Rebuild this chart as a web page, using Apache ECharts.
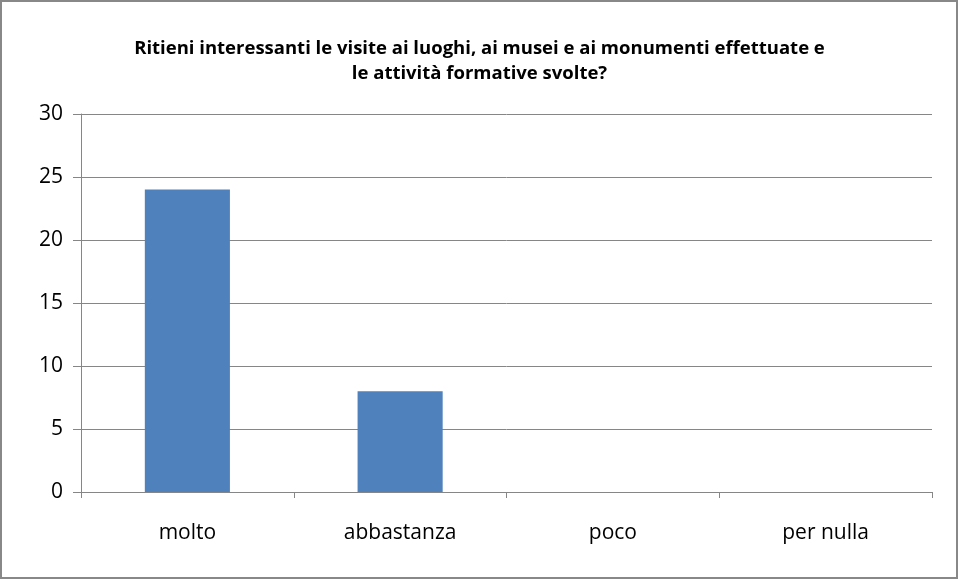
<!DOCTYPE html>
<html>
<head>
<meta charset="utf-8">
<script src="https://cdn.jsdelivr.net/npm/echarts@6/dist/echarts.min.js"></script>
<style>
  html, body { margin: 0; padding: 0; background: #fff; }
  #chart { width: 959px; height: 580px; }
</style>
</head>
<body>
<div id="chart"></div>
<script>
  // dati del grafico
  const titleText = 'Ritieni interessanti le visite ai luoghi, ai musei e ai monumenti effettuate e\nle attività formative svolte?';
  const categories = ['molto', 'abbastanza', 'poco', 'per nulla'];
  const values = [24, 8, 0, 0];

  const chart = echarts.init(document.getElementById('chart'));

  const gray = '#868686';

  const option = {
    backgroundColor: '#fff',
    animation: false,
    title: {
      text: titleText,
      left: 'center',
      top: 31,
      textStyle: {
        fontFamily: 'Open Sans',
        fontWeight: 'bold',
        fontSize: 18.5,
        lineHeight: 25,
        color: '#000'
      }
    },
    graphic: [{
      type: 'rect',
      shape: { x: 1, y: 1, width: 956, height: 577 },
      style: { fill: 'none', stroke: '#888', lineWidth: 2 },
      silent: true
    }],
    grid: {
      left: 81,
      right: 27,
      top: 114,
      bottom: 88
    },
    xAxis: {
      type: 'category',
      data: categories,
      axisLine: { lineStyle: { color: gray, width: 1 } },
      axisTick: { show: true, length: 6, lineStyle: { color: gray } },
      axisLabel: {
        margin: 31,
        fontFamily: 'Open Sans',
        fontSize: 21,
        color: '#000'
      }
    },
    yAxis: {
      type: 'value',
      min: 0,
      max: 30,
      interval: 5,
      axisLine: { show: true, lineStyle: { color: gray, width: 1 } },
      axisTick: { show: true, length: 8, lineStyle: { color: gray } },
      splitLine: { show: true, lineStyle: { color: gray, width: 1 } },
      axisLabel: {
        margin: 18,
        fontFamily: 'Open Sans',
        fontSize: 21,
        color: '#000'
      }
    },
    series: [{
      type: 'bar',
      data: values,
      barWidth: '40%',
      itemStyle: { color: '#4F81BD' }
    }]
  };

  chart.setOption(option);
  window.addEventListener('resize', function () { chart.resize() });
</script>
</body>
</html>
